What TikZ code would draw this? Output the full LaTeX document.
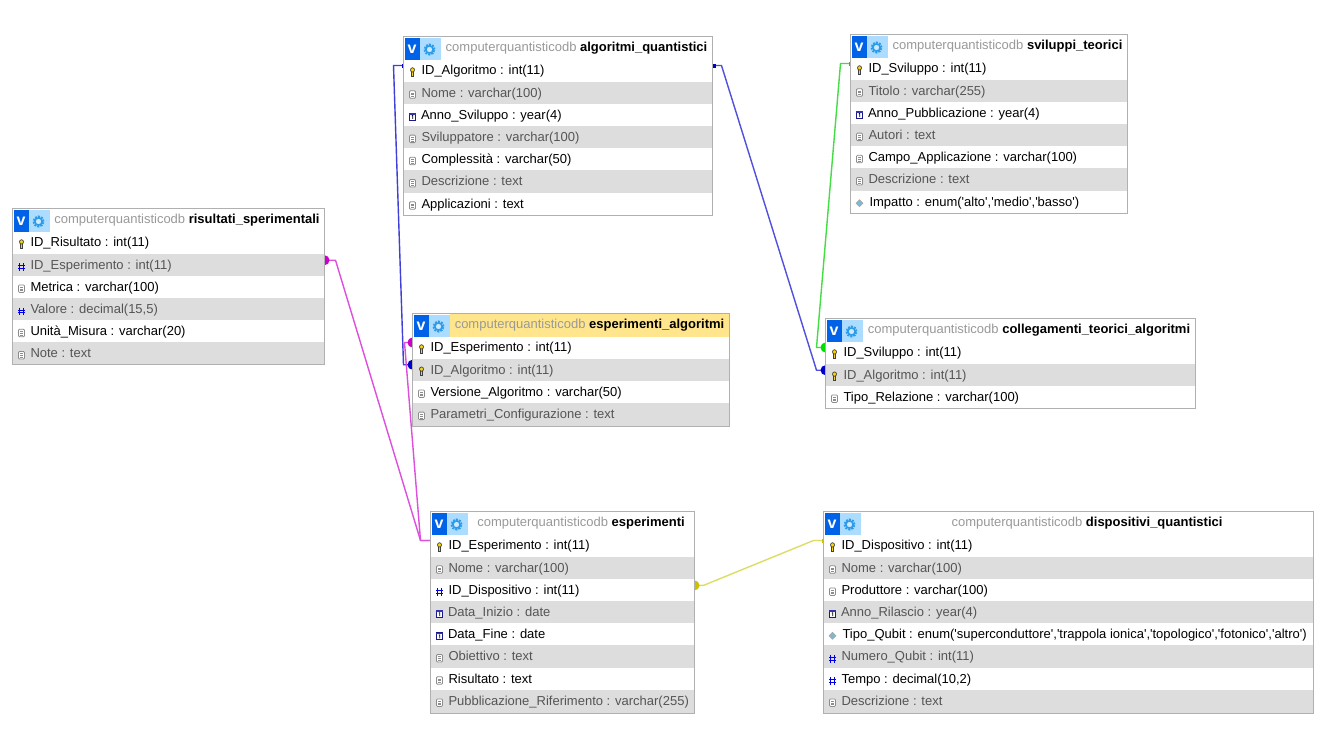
\documentclass[tikz,border=0pt]{standalone}
\usepackage{fontspec}
\newfontfamily\uifont{Liberation Sans}
\usetikzlibrary{backgrounds}
\definecolor{rowgray}{HTML}{DDDDDD}
\definecolor{rowtxt}{HTML}{555555}
\definecolor{frame}{HTML}{B0B0B0}
\definecolor{schema}{HTML}{999999}
\definecolor{vblue}{HTML}{0062E6}
\definecolor{gearbg}{HTML}{ACDCFF}
\definecolor{gearfg}{HTML}{2C9BEA}
\definecolor{hdyellow}{HTML}{FFE68C}
\definecolor{lblue}{HTML}{5050DD}
\definecolor{dblue}{HTML}{0000CC}
\definecolor{lmag}{HTML}{DD4FDD}
\definecolor{dmag}{HTML}{CC00CC}
\definecolor{lgreen}{HTML}{44DD44}
\definecolor{dgreen}{HTML}{00DD00}
\definecolor{lyel}{HTML}{DDDD66}
\definecolor{dyel}{HTML}{CCC000}
\tikzset{
  rowbox/.style={rectangle,draw=none,inner sep=0pt,outer sep=0pt},
  rowtext/.style={inner sep=0pt,outer sep=0pt,anchor=base west,font=\uifont\fontsize{13}{15}\selectfont},
  hdtext/.style={inner sep=0pt,outer sep=0pt,anchor=center,font=\uifont\fontsize{13}{15}\selectfont},
  tablebox/.style={rectangle,draw=frame,line width=1pt,fill=none,inner sep=0pt,outer sep=0pt},
  conn/.style={line width=1.4pt},
  keyicon/.style={fill=yellow!75!orange,draw=black!75,line width=.7pt},
  docicon/.style={fill=white,draw=black!45,line width=.8pt},
}
\newcommand{\icok}[2]{%
  \draw[keyicon] (#1-.9,#2) rectangle (#1+.9,#2+4.5);
  \draw[keyicon] (#1,#2-1.6) ellipse (2pt and 2.2pt);}
\newcommand{\icod}[2]{%
  \draw[docicon,rounded corners=1pt] (#1-3,#2-3) rectangle (#1+3,#2+4.5);
  \draw[black!45,line width=.6pt] (#1-1.5,#2-.8)--(#1+1.5,#2-.8) (#1-1.5,#2+1)--(#1+1.5,#2+1) (#1-1.5,#2+2.8)--(#1+1.5,#2+2.8);}
\newcommand{\icoh}[2]{%
  \draw[blue!90!black,line width=1pt] (#1-1.6,#2-2.5)--(#1-1.6,#2+5) (#1+1.6,#2-2.5)--(#1+1.6,#2+5) (#1-3.2,#2)--(#1+3.2,#2) (#1-3.2,#2+2.6)--(#1+3.2,#2+2.6);}
\newcommand{\icoc}[2]{%
  \draw[fill=white,draw=blue!50!black!90,line width=.8pt] (#1-3.2,#2-2.8) rectangle (#1+3.2,#2+4);
  \fill[blue!60!black!80] (#1-3.2,#2-2.8) rectangle (#1+3.2,#2-1.4);
  \draw[black,line width=.7pt] (#1-.7,#2-.2)--(#1+.2,#2-.4)--(#1+.2,#2+3);}
\newcommand{\icoe}[2]{%
  \draw[fill=cyan!40!teal!60,draw=black!35,line width=.6pt] (#1-3.4,#2+.5)--(#1,#2-3)--(#1+3.4,#2+.5)--(#1,#2+4)--cycle;}
\def\txoffk{18}\def\txoffd{18}\def\txoffh{18}\def\txoffc{17.5}\def\txoffe{19}
% name, x0, y0, x1, y1, header colour, table title, rows
\newcommand{\dbtable}[8]{%
  \pgfmathsetmacro{\tw}{#4-#2}\pgfmathsetmacro{\tcx}{(#2+#4)/2}\pgfmathsetmacro{\tcy}{(#3+#5)/2}%
  \foreach \ty/\tx [count=\i] in {#8}{%
    \pgfmathsetmacro{\yc}{#3+34+22.2*(\i-1)}%
    \pgfmathtruncatemacro{\even}{mod(\i,2)==0}%
    \ifnum\even=1\def\bgc{rowgray}\def\fgc{rowtxt}\else\def\bgc{white}\def\fgc{black}\fi
    \pgfmathsetmacro{\ybot}{min(\yc+13,#5)}\pgfmathsetmacro{\ytop}{\yc-11.1}%
    \fill[\bgc] (#2,\ytop) rectangle (#4,\ybot);
    \node[rowbox,minimum width=\tw pt,minimum height=22.2pt] (#1-\i) at (\tcx,\yc) {};
    \pgfmathsetmacro{\ix}{#2+9}\pgfmathsetmacro{\iy}{\yc+1}%
    \csname ico\ty\endcsname{\ix}{\iy}%
    \pgfmathsetmacro{\txx}{#2+\csname txoff\ty\endcsname}\pgfmathsetmacro{\tyy}{\yc+4.3}%
    \node[rowtext,text=\fgc] (#1-\i-t) at (\txx,\tyy) {\tx};
  }%
  \pgfmathsetmacro{\hcx}{(#2+37+#4)/2}\pgfmathsetmacro{\hcy}{#3+11.5}%
  \pgfmathsetmacro{\hw}{#4-#2-37}%
  \node[rowbox,fill=#6,minimum width=\hw pt,minimum height=23pt] (#1-hd) at (\hcx,\hcy) {};
  \node[hdtext] (#1-title) at (\hcx,\hcy) {\textcolor{schema}{computerquantisticodb} \textbf{#7}};
  \fill[vblue] (#2+1,#3+1) rectangle (#2+16,#3+23);
  \node[inner sep=0pt,text=white,font=\uifont\fontsize{16}{16}\bfseries\selectfont] (#1-v) at (#2+8.5,#3+12.5) {v};
  \fill[gearbg] (#2+16,#3+1) rectangle (#2+37,#3+23);
  \draw[gearfg,line width=1.6pt,fill=gearbg!60!white] (#2+26,#3+13) circle (3.6pt);
  \draw[gearfg,line width=2pt,dash pattern=on 2pt off 1.1pt] (#2+26,#3+13) circle (5pt);
  \node[tablebox,minimum width=\tw pt,minimum height={(#5-#3)*1pt}] (#1) at (\tcx,\tcy) {};
}
\begin{document}
\begin{tikzpicture}[x=1pt,y=-1pt]
\useasboundingbox (0,0) rectangle (1327,734);

\dbtable{alg}{403.5}{36.5}{712.5}{215.5}{white}{algoritmi\_quantistici}{
 k/{ID\_Algoritmo : int(11)},
 d/{Nome : varchar(100)},
 c/{Anno\_Sviluppo : year(4)},
 d/{Sviluppatore : varchar(100)},
 d/{Complessità : varchar(50)},
 d/{Descrizione : text},
 d/{Applicazioni : text}}

\dbtable{svi}{850.5}{34.5}{1127.5}{213.5}{white}{sviluppi\_teorici}{
 k/{ID\_Sviluppo : int(11)},
 d/{Titolo : varchar(255)},
 c/{Anno\_Pubblicazione : year(4)},
 d/{Autori : text},
 d/{Campo\_Applicazione : varchar(100)},
 d/{Descrizione : text},
 e/{Impatto : enum('alto','medio','basso')}}

\dbtable{ris}{12.5}{208.5}{324.5}{364.5}{white}{risultati\_sperimentali}{
 k/{ID\_Risultato : int(11)},
 h/{ID\_Esperimento : int(11)},
 d/{Metrica : varchar(100)},
 h/{Valore : decimal(15,5)},
 d/{Unità\_Misura : varchar(20)},
 d/{Note : text}}

\dbtable{ea}{412.5}{313.5}{729.5}{426.5}{hdyellow}{esperimenti\_algoritmi}{
 k/{ID\_Esperimento : int(11)},
 k/{ID\_Algoritmo : int(11)},
 d/{Versione\_Algoritmo : varchar(50)},
 d/{Parametri\_Configurazione : text}}

\dbtable{col}{825.5}{318.5}{1195.5}{408.5}{white}{collegamenti\_teorici\_algoritmi}{
 k/{ID\_Sviluppo : int(11)},
 k/{ID\_Algoritmo : int(11)},
 d/{Tipo\_Relazione : varchar(100)}}

\dbtable{esp}{430.5}{511.5}{694.5}{713.5}{white}{esperimenti}{
 k/{ID\_Esperimento : int(11)},
 d/{Nome : varchar(100)},
 h/{ID\_Dispositivo : int(11)},
 c/{Data\_Inizio : date},
 c/{Data\_Fine : date},
 d/{Obiettivo : text},
 d/{Risultato : text},
 d/{Pubblicazione\_Riferimento : varchar(255)}}

\dbtable{dis}{823.5}{511.5}{1313.5}{713.5}{white}{dispositivi\_quantistici}{
 k/{ID\_Dispositivo : int(11)},
 d/{Nome : varchar(100)},
 d/{Produttore : varchar(100)},
 c/{Anno\_Rilascio : year(4)},
 e/{Tipo\_Qubit : enum('superconduttore','trappola ionica','topologico','fotonico','altro')},
 h/{Numero\_Qubit : int(11)},
 h/{Tempo : decimal(10,2)},
 d/{Descrizione : text}}

\begin{pgfonlayer}{background}
  \fill[white] (0,0) rectangle (1327,734);
  % algoritmi -> collegamenti
  \draw[conn,lblue] ([yshift=5pt]alg-1.east) -- ++(9pt,0pt) -- ([shift={(-9pt,4.5pt)}]col-2.west) -- ([yshift=4.5pt]col-2.west);
  \fill[dblue] ([yshift=5pt]alg-1.east) ++(-1pt,-2pt) rectangle ++(4pt,4pt);
  \fill[dblue] ([yshift=4.5pt]col-2.west) circle (5pt);
  % algoritmi -> esperimenti_algoritmi
  \draw[conn,dblue!75!white] ([yshift=5pt]alg-1.west) -- ++(-10pt,0pt) -- ([shift={(-9pt,5pt)}]ea-2.west) -- ([yshift=5pt]ea-2.west);
  \fill[dblue] ([yshift=5pt]alg-1.west) ++(1pt,-2pt) rectangle ++(-3pt,4pt);
  \fill[dblue] ([yshift=5pt]ea-2.west) circle (5pt);
  % sviluppi -> collegamenti
  \draw[conn,lgreen] ([yshift=5pt]svi-1.west) -- ++(-10pt,0pt) -- ([shift={(-9pt,5pt)}]col-1.west) -- ([yshift=5pt]col-1.west);
  \fill[dgreen] ([yshift=5pt]svi-1.west) ++(1pt,-2pt) rectangle ++(-3pt,4pt);
  \fill[dgreen] ([yshift=5pt]col-1.west) circle (5pt);
  % esperimenti -> risultati
  \draw[conn,lmag] ([yshift=5pt]esp-1.west) -- ++(-10pt,0pt) -- ([shift={(11pt,4.5pt)}]ris-2.east) -- ([yshift=4.5pt]ris-2.east);
  \fill[dmag] ([yshift=4.5pt]ris-2.east) circle (5pt);
  % esperimenti -> esperimenti_algoritmi
  \draw[conn,lmag] ([yshift=5pt]esp-1.west) -- ++(-10pt,0pt) -- ([shift={(-8pt,5pt)}]ea-1.west) -- ([yshift=5pt]ea-1.west);
  \fill[dmag] ([yshift=5pt]ea-1.west) circle (5pt);
  % esperimenti -> dispositivi
  \draw[conn,lyel] ([yshift=4.5pt]esp-3.east) -- ++(9pt,0pt) -- ([shift={(-10pt,5pt)}]dis-1.west) -- ([yshift=5pt]dis-1.west);
  \fill[dyel] ([yshift=4.5pt]esp-3.east) circle (5pt);
  \fill[dyel] ([yshift=5pt]dis-1.west) ++(1pt,-2pt) rectangle ++(-3pt,4pt);
\end{pgfonlayer}
\end{tikzpicture}
\end{document}
